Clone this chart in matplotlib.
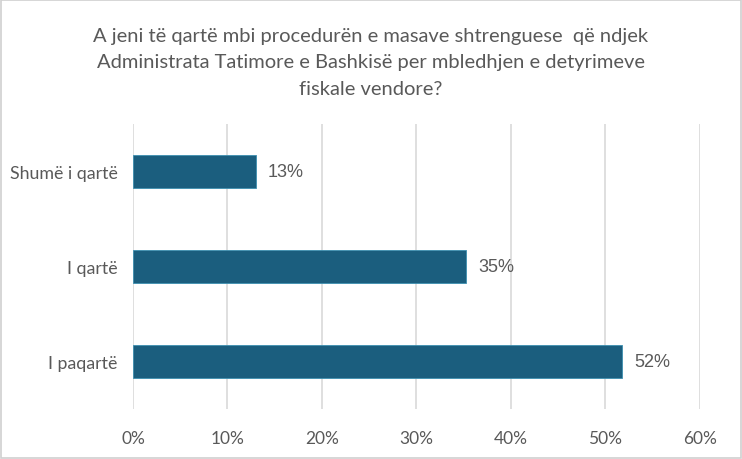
import matplotlib
matplotlib.use("Agg")
import matplotlib.pyplot as plt
from matplotlib.ticker import FuncFormatter
from matplotlib.patches import Rectangle

categories = ["Shumë i qartë", "I qartë", "I paqartë"]
values = [0.13, 0.352, 0.517]
labels = ["13%", "35%", "52%"]
xticks = [0, 0.1, 0.2, 0.3, 0.4, 0.5, 0.6]

title = ("A jeni të qartë mbi procedurën e masave shtrenguese  që ndjek\n"
         "Administrata Tatimore e Bashkisë per mbledhjen e detyrimeve\n"
         "fiskale vendore?")

bar_color = "#1b5e7e"
text_color = "#595959"

fig = plt.figure(figsize=(7.42, 4.6), dpi=100)
fig.patch.set_facecolor("white")
fig.patches.append(Rectangle((0.002, 0.002), 0.996, 0.996, transform=fig.transFigure,
                             fill=False, edgecolor="#d0d0d0", linewidth=1.2))

ax = fig.add_axes([0.1792, 0.1087, 0.7642, 0.6196])
y = list(range(len(categories)))
ax.barh(y, values, height=0.35, color=bar_color, edgecolor="#3d8fb0", linewidth=0.6, zorder=3)
for yi, v, lab in zip(y, values, labels):
    ax.text(v + 0.013, yi, lab, va="center", ha="left", fontsize=13,
            color=text_color, family="Liberation Sans")

ax.set_ylim(2.5, -0.5)
ax.set_xlim(0, 0.6)
ax.set_xticks(xticks)
ax.xaxis.set_major_formatter(FuncFormatter(lambda x, p: f"{x*100:.0f}%"))
ax.set_yticks(y)
ax.set_yticklabels(categories, family="Lato", fontsize=12.8, color=text_color)
ax.tick_params(axis="y", length=0, pad=11)
ax.tick_params(axis="x", length=0, pad=15, labelsize=12.5, labelcolor=text_color)
for t in ax.get_xticklabels():
    t.set_family("Lato")
ax.grid(axis="x", color="#d9d9d9", linewidth=1.2, zorder=0)
for s in ax.spines.values():
    s.set_visible(False)

fig.text(0.5, 0.94, title, ha="center", va="top", fontsize=14.5, color=text_color,
         family="Lato", linespacing=1.68)

fig.savefig("out.png", dpi=100)
